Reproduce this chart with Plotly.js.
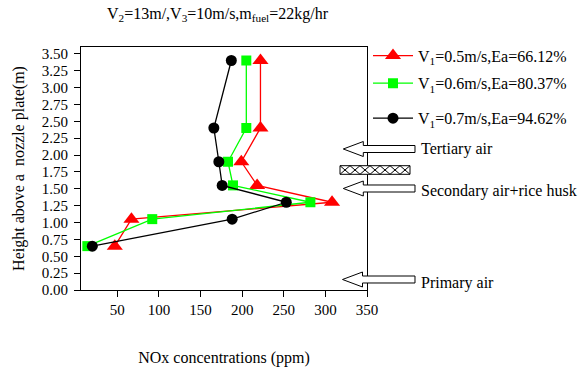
<!DOCTYPE html>
<html>
<head>
<meta charset="utf-8">
<script src="https://cdn.plot.ly/plotly-3.0.1.min.js"></script>
<style>html,body{margin:0;padding:0;background:#fff;}#chart{width:579px;height:372px;}</style>
</head>
<body>
<div id="chart"></div>
<script>
// Data
const heights = [3.4, 2.4, 1.9, 1.55, 1.3, 1.05, 0.65];
const nox_v05 = [222, 222, 199, 218, 308, 67, 47];
const nox_v06 = [205, 205, 183, 189, 282, 92, 14];
const nox_v07 = [187, 166, 172, 176, 253, 188, 20];
const seriesNames = [
  'V<sub>1</sub>=0.5m/s,Ea=66.12%',
  'V<sub>1</sub>=0.6m/s,Ea=80.37%',
  'V<sub>1</sub>=0.7m/s,Ea=94.62%'
];
const yTickVals = [0,0.25,0.5,0.75,1,1.25,1.5,1.75,2,2.25,2.5,2.75,3,3.25,3.5];
const xTickVals = [50,100,150,200,250,300,350];
const airLabels = ['Tertiary air', 'Secondary air+rice husk', 'Primary air'];

// layout geometry (pixels)
const L = 81, R = 367, T = 47, B = 290;
const px = x => (x - L) / (R - L);
const py = y => (B - y) / (B - T);
const font = '"Liberation Serif"';

function arrowPath(tx, ty) {
  const pts = [[tx,ty],[tx+20,ty-7.5],[tx+20,ty-3.5],[415,ty-3.5],[415,ty+3.5],[tx+20,ty+3.5],[tx+20,ty+7.5]];
  return 'M' + pts.map(p => px(p[0]).toFixed(5) + ',' + py(p[1]).toFixed(5)).join(' L') + ' Z';
}
function hatchPath(x0, y0, x1, y1, n) {
  let d = 'M' + px(x0) + ',' + py(y0) + ' L' + px(x1) + ',' + py(y0) + ' L' + px(x1) + ',' + py(y1) + ' L' + px(x0) + ',' + py(y1) + ' Z';
  const w = (x1 - x0) / n;
  for (let i = 0; i < n; i++) {
    const a = x0 + w * i, b = a + w;
    d += ' M' + px(a) + ',' + py(y0) + ' L' + px(b) + ',' + py(y1);
    d += ' M' + px(b) + ',' + py(y0) + ' L' + px(a) + ',' + py(y1);
  }
  return d;
}

const traces = [
  {x: nox_v05, y: heights, name: seriesNames[0], mode: 'lines+markers',
   line: {color: '#ff0000', width: 1.3}, marker: {symbol: 'triangle-up', size: 14, color: '#ff0000'}, legend: 'legend'},
  {x: nox_v06, y: heights, name: seriesNames[1], mode: 'lines+markers',
   line: {color: '#00ff00', width: 1.3}, marker: {symbol: 'square', size: 10, color: '#00ff00'}, legend: 'legend2'},
  {x: nox_v07, y: heights, name: seriesNames[2], mode: 'lines+markers',
   line: {color: '#000000', width: 1.3}, marker: {symbol: 'circle', size: 11, color: '#000000'}, legend: 'legend3'}
];

const legendBase = {xanchor: 'left', yanchor: 'middle', bgcolor: 'rgba(0,0,0,0)',
  font: {family: font, size: 16, color: '#000'}, itemwidth: 40};

const shapes = [
  {type: 'path', xref: 'paper', yref: 'paper', path: arrowPath(343.3, 149), fillcolor: '#fff', line: {color: '#000', width: 1}},
  {type: 'path', xref: 'paper', yref: 'paper', path: arrowPath(343.3, 188.5), fillcolor: '#fff', line: {color: '#000', width: 1}},
  {type: 'path', xref: 'paper', yref: 'paper', path: arrowPath(342.5, 279.5), fillcolor: '#fff', line: {color: '#000', width: 1}},
  {type: 'path', xref: 'paper', yref: 'paper', path: hatchPath(340, 165.7, 410, 174.3, 7), fillcolor: '#fff', line: {color: '#000', width: 1}}
];

const annotations = [
  {xref: 'paper', yref: 'paper', x: px(105), y: py(14), xanchor: 'left', yanchor: 'middle', showarrow: false,
   text: 'V<sub>2</sub>=13m/,V<sub>3</sub>=10m/s,m<sub>fuel</sub>=22kg/hr', font: {family: font, size: 16, color: '#000'}},
  {xref: 'paper', yref: 'paper', x: px(419), y: py(148.5), xanchor: 'left', yanchor: 'middle', showarrow: false,
   text: airLabels[0], font: {family: font, size: 16, color: '#000'}},
  {xref: 'paper', yref: 'paper', x: px(419), y: py(190.5), xanchor: 'left', yanchor: 'middle', showarrow: false,
   text: airLabels[1], font: {family: font, size: 16, color: '#000'}},
  {xref: 'paper', yref: 'paper', x: px(419), y: py(283), xanchor: 'left', yanchor: 'middle', showarrow: false,
   text: airLabels[2], font: {family: font, size: 16, color: '#000'}}
];

const layout = {
  width: 579, height: 372,
  margin: {l: L, r: 579 - R, t: T, b: 372 - B, pad: 0, autoexpand: false},
  paper_bgcolor: '#fff', plot_bgcolor: '#fff',
  font: {family: font, color: '#000', size: 15},
  showlegend: true,
  legend: Object.assign({}, legendBase, {x: px(368), y: py(55.7)}),
  legend2: Object.assign({}, legendBase, {x: px(368), y: py(83.3)}),
  legend3: Object.assign({}, legendBase, {x: px(368), y: py(118.3)}),
  xaxis: {
    range: [6.4, 350], tickvals: xTickVals, ticktext: xTickVals.map(String),
    showgrid: false, zeroline: false, showline: true, linecolor: '#000', linewidth: 1,
    mirror: true, ticks: 'outside', ticklen: 6, tickcolor: '#000', tickwidth: 1,
    tickfont: {family: font, size: 15, color: '#000'},
    title: {text: 'NOx concentrations (ppm)', font: {family: font, size: 16, color: '#000'}, standoff: 34}
  },
  yaxis: {
    range: [0, 3.6], tickvals: yTickVals, ticktext: yTickVals.map(v => v.toFixed(2)),
    showgrid: false, zeroline: false, showline: true, linecolor: '#000', linewidth: 1,
    mirror: true, ticks: 'outside', ticklen: 6, tickcolor: '#000', tickwidth: 1,
    ticklabelstandoff: 3,
    tickfont: {family: font, size: 15, color: '#000'},
    title: {text: 'Height above a  nozzle plate(m)', font: {family: font, size: 16, color: '#000'}, standoff: 13}
  },
  shapes: shapes,
  annotations: annotations
};

Plotly.newPlot('chart', traces, layout, {displayModeBar: false, staticPlot: true});
</script>
</body>
</html>
